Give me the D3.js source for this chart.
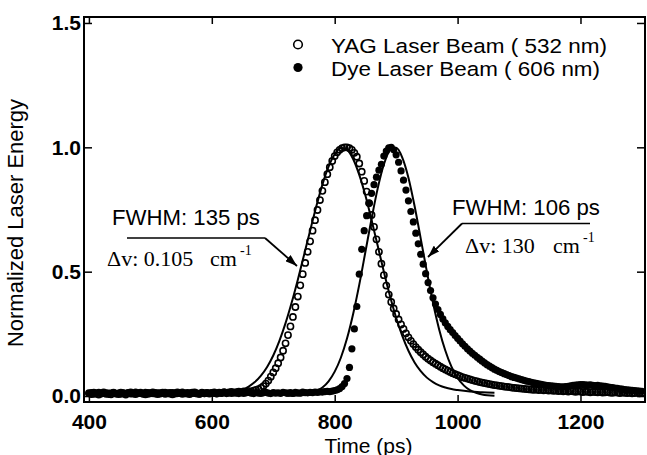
<!DOCTYPE html>
<html><head><meta charset="utf-8">
<script src="https://cdnjs.cloudflare.com/ajax/libs/d3/7.8.5/d3.min.js"></script>
<style>body{margin:0;background:#fff}svg{display:block}</style>
</head><body><svg id="c" width="647" height="455"></svg>
<script>
// ---- data ----
const sampleStartPs = 400, sampleStepPs = 4;   // measured points every 4 ps, 400..1300 ps
const yagValues = [
 0.012,0.008,0.014,0.010,0.006,0.012,0.015,0.009,0.011,0.007,
 0.013,0.010,0.008,0.014,0.011,0.006,0.012,0.015,0.010,0.008,
 0.012,0.014,0.009,0.007,0.013,0.011,0.015,0.010,0.008,0.012,
 0.014,0.009,0.011,0.013,0.007,0.010,0.015,0.012,0.009,0.011,
 0.013,0.008,0.012,0.015,0.010,0.009,0.014,0.011,0.013,0.010,
 0.012,0.015,0.011,0.014,0.012,0.016,0.013,0.015,0.017,0.014,
 0.016,0.018,0.015,0.019,0.017,0.020,0.018,0.022,0.025,0.028,
 0.033,0.040,0.050,0.062,0.078,0.095,0.112,0.132,0.155,0.182,
 0.212,0.245,0.280,0.318,0.358,0.400,0.445,0.490,0.535,0.580,
 0.622,0.665,0.707,0.748,0.788,0.825,0.860,0.892,0.920,0.945,
 0.965,0.980,0.990,0.997,1.000,1.000,0.997,0.990,0.978,0.962,
 0.935,0.902,0.865,0.822,0.776,0.728,0.680,0.630,0.580,0.532,
 0.486,0.444,0.408,0.378,0.352,0.330,0.308,0.288,0.270,0.252,
 0.236,0.222,0.209,0.197,0.186,0.176,0.167,0.158,0.150,0.143,
 0.136,0.130,0.124,0.118,0.112,0.107,0.102,0.097,0.092,0.088,
 0.084,0.080,0.076,0.073,0.070,0.067,0.064,0.061,0.059,0.056,
 0.054,0.052,0.050,0.048,0.046,0.044,0.043,0.041,0.040,0.038,
 0.037,0.036,0.034,0.033,0.032,0.031,0.030,0.029,0.028,0.027,
 0.026,0.025,0.026,0.024,0.025,0.023,0.024,0.022,0.023,0.021,
 0.022,0.020,0.021,0.019,0.021,0.018,0.020,0.019,0.017,0.019,
 0.018,0.016,0.018,0.017,0.015,0.017,0.016,0.015,0.016,0.014,
 0.015,0.016,0.014,0.013,0.015,0.014,0.012,0.014,0.013,0.012,
 0.013,0.011,0.012,0.013,0.011,0.012
];
const dyeValues = [
 0.010,0.014,0.008,0.012,0.015,0.009,0.011,0.013,0.007,0.012,
 0.015,0.010,0.012,0.008,0.013,0.011,0.014,0.009,0.012,0.016,
 0.010,0.013,0.011,0.015,0.008,0.012,0.010,0.014,0.013,0.009,
 0.011,0.015,0.012,0.009,0.014,0.013,0.010,0.012,0.016,0.011,
 0.009,0.013,0.015,0.011,0.012,0.008,0.014,0.010,0.013,0.012,
 0.014,0.011,0.009,0.013,0.012,0.015,0.010,0.013,0.011,0.014,
 0.012,0.010,0.014,0.011,0.013,0.015,0.012,0.010,0.014,0.012,
 0.011,0.013,0.015,0.012,0.010,0.014,0.012,0.013,0.011,0.015,
 0.013,0.012,0.014,0.011,0.015,0.013,0.012,0.016,0.014,0.013,
 0.015,0.014,0.016,0.015,0.017,0.016,0.018,0.019,0.018,0.020,
 0.022,0.025,0.030,0.038,0.050,0.070,0.115,0.190,0.270,0.360,
 0.490,0.590,0.665,0.725,0.775,0.815,0.850,0.880,0.908,0.932,
 0.965,0.985,0.998,1.000,0.990,0.970,0.940,0.905,0.868,0.828,
 0.785,0.742,0.700,0.655,0.612,0.570,0.530,0.492,0.456,0.424,
 0.395,0.370,0.348,0.328,0.310,0.294,0.280,0.267,0.255,0.243,
 0.232,0.221,0.210,0.200,0.190,0.181,0.172,0.164,0.156,0.148,
 0.140,0.133,0.126,0.120,0.114,0.108,0.103,0.098,0.094,0.090,
 0.086,0.082,0.078,0.075,0.072,0.069,0.066,0.063,0.060,0.058,
 0.055,0.053,0.051,0.049,0.047,0.045,0.043,0.042,0.041,0.040,
 0.039,0.038,0.037,0.037,0.038,0.039,0.041,0.043,0.044,0.045,
 0.046,0.046,0.045,0.044,0.045,0.043,0.042,0.043,0.041,0.040,
 0.039,0.037,0.035,0.034,0.032,0.031,0.029,0.028,0.026,0.025,
 0.024,0.023,0.022,0.021,0.020,0.019
];
const yagFitTime   = [600,620,640,650,660,670,680,690,700,710,720,730,740,750,760,770,780,790,800,810,820,830,840,850,860,870,880,890,900,910,920,930,940,950,960,970,980,990,1000,1020,1040,1060];
const yagFitValues = [0.004,0.008,0.015,0.025,0.038,0.056,0.082,0.117,0.163,0.222,0.293,0.376,0.468,0.566,0.665,0.762,0.850,0.922,0.972,0.997,0.990,0.953,0.889,0.806,0.708,0.604,0.500,0.402,0.315,0.242,0.182,0.135,0.100,0.074,0.056,0.043,0.034,0.028,0.024,0.018,0.015,0.013];
const dyeFitTime   = [720,740,760,770,780,790,800,810,820,830,840,850,860,870,880,890,900,910,920,930,940,950,960,970,980,990,1000,1010,1020,1030,1040,1060];
const dyeFitValues = [0.001,0.002,0.010,0.019,0.034,0.059,0.098,0.154,0.231,0.330,0.448,0.580,0.713,0.835,0.931,0.988,0.998,0.959,0.878,0.764,0.633,0.500,0.375,0.268,0.183,0.118,0.073,0.043,0.024,0.013,0.006,0.001];
const xTicks = [400, 600, 800, 1000, 1200];
const yTicks = [0.0, 0.5, 1.0, 1.5];
const legendLabels = ["YAG Laser Beam ( 532 nm)", "Dye Laser Beam ( 606 nm)"];
const xTitle = "Time (ps)", yTitle = "Normalized Laser Energy";

// ---- drawing ----
const svg = d3.select("#c");
const L = 84, R = 645, T = 17, B = 402;
const x = d3.scaleLinear().domain([392, 1305]).range([L, R]);
const y = d3.scaleLinear().domain([-0.024, 1.524]).range([B, T]);
const sans = "'Liberation Sans', Arial, Helvetica, sans-serif";
const serif = "'Liberation Serif', 'Times New Roman', serif";

const defs = svg.append("defs");
defs.append("marker").attr("id","ah").attr("viewBox","0 0 12 8").attr("refX",12).attr("refY",4)
  .attr("markerWidth",12).attr("markerHeight",8).attr("markerUnits","userSpaceOnUse").attr("orient","auto")
  .append("path").attr("d","M0,0 L12,4 L0,8 Z").attr("fill","#000");

const yag = yagValues.map((v,i)=>({t: sampleStartPs + i*sampleStepPs, v}));
const dye = dyeValues.map((v,i)=>({t: sampleStartPs + i*sampleStepPs, v}));

const g = svg.append("g");
g.selectAll("circle.yag").data(yag).join("circle").attr("class","yag")
  .attr("cx",d=>x(d.t)).attr("cy",d=>y(d.v)).attr("r",3.1)
  .attr("fill","none").attr("stroke","#000").attr("stroke-width",1.6);
g.selectAll("circle.dye").data(dye).join("circle").attr("class","dye")
  .attr("cx",d=>x(d.t)).attr("cy",d=>y(d.v)).attr("r",3.6).attr("fill","#000");

const line = d3.line().x(d=>x(d[0])).y(d=>y(d[1])).curve(d3.curveMonotoneX);
g.append("path").datum(yagFitTime.map((t,i)=>[t,yagFitValues[i]])).attr("d",line)
  .attr("fill","none").attr("stroke","#000").attr("stroke-width",2);
g.append("path").datum(dyeFitTime.map((t,i)=>[t,dyeFitValues[i]])).attr("d",line)
  .attr("fill","none").attr("stroke","#000").attr("stroke-width",2);

// axes
const ax = svg.append("g").attr("font-family",sans);
ax.append("g").attr("transform",`translate(0,${B})`)
  .call(d3.axisBottom(x).tickValues(xTicks).tickFormat(d3.format("d")).tickSizeInner(-7).tickSizeOuter(0).tickPadding(12));
ax.append("g").attr("transform",`translate(${L},0)`)
  .call(d3.axisLeft(y).tickValues(yTicks).tickFormat(d3.format(".1f")).tickSizeInner(-8).tickSizeOuter(0).tickPadding(3));
ax.append("g").attr("transform",`translate(0,${T})`)
  .call(d3.axisTop(x).tickValues(xTicks).tickSizeInner(-7).tickSizeOuter(0).tickFormat(""));
ax.append("g").attr("transform",`translate(${R},0)`)
  .call(d3.axisRight(y).tickValues(yTicks).tickSizeInner(-8).tickSizeOuter(0).tickFormat(""));
ax.selectAll(".domain").remove();
ax.selectAll(".tick line").attr("stroke","#000").attr("stroke-width",1.5);
ax.selectAll(".tick text").attr("fill","#000").attr("font-size",21).attr("font-weight","bold").attr("font-family",sans);
svg.append("rect").attr("x",L).attr("y",T).attr("width",R-L).attr("height",B-T)
  .attr("fill","none").attr("stroke","#000").attr("stroke-width",2);

svg.append("text").attr("x",(L+R)/2+4).attr("y",452.5).attr("text-anchor","middle")
  .attr("font-family",sans).attr("font-size",21).text(xTitle);
svg.append("text").attr("transform","translate(23,223) rotate(-90)").attr("text-anchor","middle")
  .attr("font-family",sans).attr("font-size",22).text(yTitle);

// legend
const lg = svg.append("g").attr("font-family",sans).attr("font-size",20.5);
lg.append("circle").attr("cx",298).attr("cy",44.5).attr("r",4.3).attr("fill","#fff").attr("stroke","#000").attr("stroke-width",1.6);
lg.append("circle").attr("cx",298).attr("cy",67.5).attr("r",4.6).attr("fill","#000");
lg.append("text").attr("x",331).attr("y",52.5).attr("textLength",276).attr("lengthAdjust","spacingAndGlyphs").text(legendLabels[0]);
lg.append("text").attr("x",331).attr("y",75.5).attr("textLength",269).attr("lengthAdjust","spacingAndGlyphs").text(legendLabels[1]);

// annotations
function note(o){
  const a = svg.append("g");
  a.append("text").attr("x",o.fx).attr("y",o.fy).attr("font-family",sans).attr("font-size",22.2).text(o.fwhm);
  a.append("line").attr("x1",o.u1).attr("x2",o.u2).attr("y1",o.uy).attr("y2",o.uy).attr("stroke","#000").attr("stroke-width",1.5);
  a.append("line").attr("x1",o.ax1).attr("y1",o.uy).attr("x2",o.tipx).attr("y2",o.tipy)
    .attr("stroke","#000").attr("stroke-width",1.8).attr("marker-end","url(#ah)");
  a.append("text").attr("x",o.dx).attr("y",o.dy).attr("font-family",serif).attr("font-size",22).text(o.dv);
  a.append("text").attr("x",o.cx).attr("y",o.dy).attr("font-family",serif).attr("font-size",22).text("cm");
  a.append("text").attr("x",o.cx+30).attr("y",o.dy-11).attr("font-family",serif).attr("font-size",14).text("-1");
}
note({fwhm:"FWHM: 135 ps", fx:112, fy:225, u1:127, u2:265, uy:238, ax1:265, tipx:297, tipy:266,
      dv:"\u0394v: 0.105", dx:107, dy:266, cx:210});
note({fwhm:"FWHM: 106 ps", fx:452, fy:215, u1:462, u2:590, uy:223.5, ax1:462, tipx:428, tipy:257,
      dv:"\u0394v: 130", dx:465, dy:253, cx:553});
</script></body></html>
